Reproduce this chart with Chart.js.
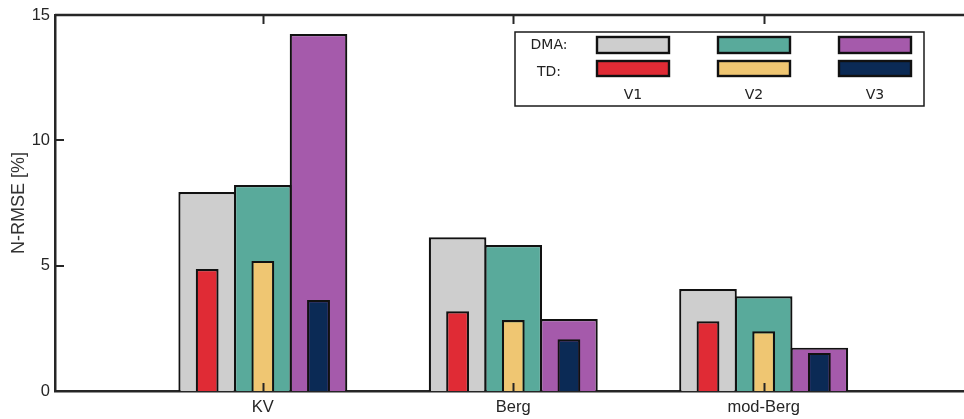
<!DOCTYPE html>
<html>
<head>
<meta charset="utf-8">
<script src="https://cdn.jsdelivr.net/npm/chart.js@4"></script>
<style>
  html, body { margin: 0; padding: 0; background: #fff; }
  canvas { display: block; }
</style>
</head>
<body>
<canvas id="c" width="964" height="419"></canvas>
<script>
// Normalised RMSE per model, for DMA and TD identification, variants V1–V3
const categories = ['KV', 'Berg', 'mod-Berg'];
const variants = ['V1', 'V2', 'V3'];
const dmaV1 = [7.94, 6.13, 4.07];
const dmaV2 = [8.22, 5.82, 3.78];
const dmaV3 = [14.24, 2.87, 1.73];
const tdV1 = [4.87, 3.18, 2.78];
const tdV2 = [5.19, 2.83, 2.38];
const tdV3 = [3.63, 2.06, 1.52];
const yTicks = [0, 5, 10, 15];

const dmaColors = ['#cecece', '#59aa9b', '#a55aab'];
const tdColors = ['#e02b35', '#efc672', '#0b2a55'];
const edge = '#111111';
const axisColor = '#262626';

const toPoints = arr => arr.map((v, i) => ({ x: i + 1, y: v }));

const dmaSeries = [dmaV1, dmaV2, dmaV3];
const tdSeries = [tdV1, tdV2, tdV3];

// DMA and TD of the same variant share one slot in the group (same stack id,
// values not summed); TD bars come first so they are painted on top.
const datasets = [];
tdSeries.forEach((s, i) => datasets.push({
  label: 'TD ' + variants[i],
  data: toPoints(s),
  stack: variants[i],
  backgroundColor: tdColors[i],
  borderColor: edge,
  borderWidth: 2.2,
  inflateAmount: 0,
  categoryPercentage: 0.667,
  barPercentage: 0.41
}));
dmaSeries.forEach((s, i) => datasets.push({
  label: 'DMA ' + variants[i],
  data: toPoints(s),
  stack: variants[i],
  backgroundColor: dmaColors[i],
  borderColor: edge,
  borderWidth: 2.2,
  inflateAmount: 0,
  categoryPercentage: 0.667,
  barPercentage: 1.035
}));

// Inward tick marks and the top frame edge
const frame = {
  id: 'frame',
  afterDatasetsDraw(chart) {
    const { ctx, chartArea: a, scales: { x, y } } = chart;
    const line = (x0, y0, x1, y1) => { ctx.beginPath(); ctx.moveTo(x0, y0); ctx.lineTo(x1, y1); ctx.stroke(); };
    ctx.save();
    ctx.strokeStyle = axisColor;
    ctx.lineWidth = 2.5;
    line(a.left, a.top, a.right, a.top);
    ctx.lineWidth = 2;
    x.ticks.forEach(t => {
      const px = Math.round(x.getPixelForValue(t.value)) + 0.5;
      line(px, a.bottom, px, a.bottom - 8);
      line(px, a.top, px, a.top + 9);
    });
    yTicks.forEach(v => {
      const py = Math.round(y.getPixelForValue(v));
      line(a.left, py, a.left + 9, py);
    });
    ctx.restore();
  }
};

// Two-row legend: DMA and TD swatches per variant
const legendBox = {
  id: 'legendBox',
  afterDraw(chart) {
    const ctx = chart.ctx;
    ctx.save();
    ctx.fillStyle = '#fff';
    ctx.fillRect(515, 32, 409, 74);
    ctx.strokeStyle = '#1a1a1a';
    ctx.lineWidth = 1.5;
    ctx.strokeRect(515, 32, 409, 74);
    ctx.font = "14px 'DejaVu Sans', sans-serif";
    ctx.fillStyle = '#222';
    ctx.textAlign = 'center';
    ctx.textBaseline = 'middle';
    ctx.fillText('DMA:', 549, 45);
    ctx.fillText('TD:', 549, 72);
    ctx.lineWidth = 2.4;
    ctx.strokeStyle = edge;
    variants.forEach((v, j) => {
      const x0 = 597 + j * 121;
      ctx.fillStyle = dmaColors[j];
      ctx.fillRect(x0, 37, 72, 16);
      ctx.strokeRect(x0, 37, 72, 16);
      ctx.fillStyle = tdColors[j];
      ctx.fillRect(x0, 61, 72, 15);
      ctx.strokeRect(x0, 61, 72, 15);
      ctx.fillStyle = '#222';
      ctx.fillText(v, x0 + 36, 95);
    });
    ctx.restore();
  }
};

Chart.defaults.font.family = "'Liberation Sans', Arial, sans-serif";
Chart.defaults.color = axisColor;

new Chart(document.getElementById('c'), {
  type: 'bar',
  data: { datasets },
  options: {
    responsive: false,
    animation: false,
    events: [],
    layout: { padding: { top: 15, right: 0, left: 0, bottom: 0 } },
    plugins: { legend: { display: false }, tooltip: { enabled: false } },
    scales: {
      x: {
        type: 'linear',
        min: 0.17,
        max: 3.8,
        offset: false,
        stacked: true,
        z: 1,
        grid: { display: false, drawTicks: false },
        border: { display: true, color: axisColor, width: 2.5 },
        afterBuildTicks: s => { s.ticks = categories.map((_, i) => ({ value: i + 1 })); },
        afterFit: s => { s.height = 28; },
        ticks: {
          font: { size: 16.5 },
          color: axisColor,
          padding: 7,
          maxRotation: 0,
          autoSkip: false,
          callback: v => categories[v - 1]
        }
      },
      y: {
        min: 0,
        max: 15,
        stacked: false,
        z: 1,
        grid: { display: false, drawTicks: false },
        border: { display: true, color: axisColor, width: 2.5 },
        afterBuildTicks: s => { s.ticks = yTicks.map(v => ({ value: v })); },
        afterFit: s => { s.width = 55; },
        ticks: { font: { size: 16.5 }, color: axisColor, padding: 5 },
        title: {
          display: true,
          text: 'N-RMSE [%]',
          font: { size: 18 },
          color: '#333',
          padding: { top: 8, bottom: 0 }
        }
      }
    }
  },
  plugins: [frame, legendBox]
});
</script>
</body>
</html>
